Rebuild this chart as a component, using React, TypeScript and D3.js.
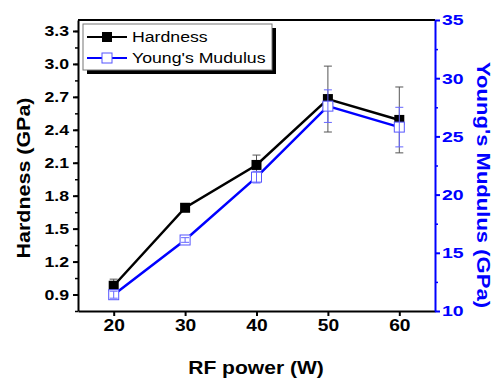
import { useRef, useEffect } from 'react';
import * as d3 from 'd3';

const WIDTH = 493;
const HEIGHT = 381;

const rfPower = [20, 30, 40, 50, 60];
const hardness = [0.98, 1.69, 2.08, 2.68, 2.49];
const hardnessErr = [0.06, 0.02, 0.09, 0.3, 0.3];
const modulus = [11.4, 16.1, 21.5, 27.6, 25.8];
const modulusErr = [0.3, 0.2, 0.5, 1.4, 1.7];

const xTicks = [20, 30, 40, 50, 60];
const leftTicks = [0.9, 1.2, 1.5, 1.8, 2.1, 2.4, 2.7, 3.0, 3.3];
const rightTicks = [10, 15, 20, 25, 30, 35];

const FONT = 'Liberation Sans, Arial, sans-serif';
const BLUE = '#0000ff';

// the original text is wider than plain Arial, so stretch it sideways
function stretchTicks(axis: d3.Selection<SVGGElement, unknown, null, undefined>, s: number) {
  axis.selectAll<SVGTextElement, unknown>('.tick text').each(function () {
    const t = d3.select(this);
    const x0 = +(t.attr('x') || 0);
    t.attr('x', x0 / s).attr('transform', `scale(${s},1)`);
  });
}

export default function App() {
  const svgRef = useRef<SVGSVGElement>(null);

  useEffect(() => {
    const svg = d3.select(svgRef.current);
    svg.selectAll('*').remove();

    const left = 78;
    const right = 435;
    const top = 20;
    const bottom = 311;

    const x = d3.scaleLinear().domain([15, 65]).range([left, right]);
    const yL = d3.scaleLinear().domain([0.75, 3.4]).range([bottom, top]);
    const yR = d3.scaleLinear().domain([10, 35]).range([bottom, top]);

    svg.append('rect').attr('width', WIDTH).attr('height', HEIGHT).attr('fill', '#fff');

    // frame
    svg.append('line').attr('x1', left).attr('x2', right).attr('y1', top).attr('y2', top)
      .attr('stroke', '#000').attr('stroke-width', 2);

    // bottom axis
    const xAxis = svg.append('g').attr('transform', `translate(0,${bottom})`)
      .call(d3.axisBottom(x).tickValues(xTicks).tickSize(5).tickSizeOuter(0).tickPadding(4).tickFormat(d3.format('d')));
    xAxis.select('.domain').attr('stroke', '#000').attr('stroke-width', 2);
    xAxis.selectAll('.tick line').attr('stroke', '#000').attr('stroke-width', 2);
    xAxis.selectAll('.tick text').attr('font-family', FONT).attr('font-size', 16)
      .attr('font-weight', 'bold').attr('fill', '#000');
    stretchTicks(xAxis, 1.2);

    // left axis
    const minorL = d3.range(0.75, 3.41, 0.15).map((v) => +v.toFixed(2));
    const lAxisMinor = svg.append('g').attr('transform', `translate(${left},0)`)
      .call(d3.axisLeft(yL).tickValues(minorL).tickSize(3).tickFormat(() => ''));
    lAxisMinor.select('.domain').remove();
    lAxisMinor.selectAll('.tick line').attr('stroke', '#000').attr('stroke-width', 1.5);

    const lAxis = svg.append('g').attr('transform', `translate(${left},0)`)
      .call(d3.axisLeft(yL).tickValues(leftTicks).tickSize(5).tickSizeOuter(0).tickPadding(4).tickFormat(d3.format('.1f')));
    lAxis.select('.domain').attr('stroke', '#000').attr('stroke-width', 2);
    lAxis.selectAll('.tick line').attr('stroke', '#000').attr('stroke-width', 2);
    lAxis.selectAll('.tick text').attr('font-family', FONT).attr('font-size', 15)
      .attr('font-weight', 'bold').attr('fill', '#000');
    stretchTicks(lAxis, 1.18);

    // right axis
    const minorR = d3.range(12.5, 35, 5);
    const rAxisMinor = svg.append('g').attr('transform', `translate(${right},0)`)
      .call(d3.axisRight(yR).tickValues(minorR).tickSize(3).tickFormat(() => ''));
    rAxisMinor.select('.domain').remove();
    rAxisMinor.selectAll('.tick line').attr('stroke', BLUE).attr('stroke-width', 1.5);

    const rAxis = svg.append('g').attr('transform', `translate(${right},0)`)
      .call(d3.axisRight(yR).tickValues(rightTicks).tickSize(5).tickSizeOuter(0).tickPadding(2).tickFormat(d3.format('d')));
    rAxis.select('.domain').attr('stroke', BLUE).attr('stroke-width', 2);
    rAxis.selectAll('.tick line').attr('stroke', BLUE).attr('stroke-width', 2);
    rAxis.selectAll('.tick text').attr('font-family', FONT).attr('font-size', 15)
      .attr('font-weight', 'bold').attr('fill', BLUE);
    stretchTicks(rAxis, 1.3);

    // axis titles
    svg.append('text').attr('transform', `translate(256,374) scale(1.17,1)`)
      .attr('text-anchor', 'middle').attr('font-family', FONT).attr('font-size', 18)
      .attr('font-weight', 'bold').text('RF power (W)');
    svg.append('text').attr('transform', `translate(30,178) rotate(-90) scale(1.13,1)`)
      .attr('text-anchor', 'middle').attr('font-family', FONT).attr('font-size', 19)
      .attr('font-weight', 'bold').text('Hardness (GPa)');
    svg.append('text').attr('transform', `translate(477,185) rotate(90) scale(1.26,1)`)
      .attr('text-anchor', 'middle').attr('font-family', FONT).attr('font-size', 17.5)
      .attr('font-weight', 'bold').attr('fill', BLUE).text("Young's Mudulus (GPa)");

    const cap = 4;

    // hardness series
    const hLine = d3.line<number>().x((_, i) => x(rfPower[i])).y((d) => yL(d));
    svg.append('path').attr('d', hLine(hardness)).attr('fill', 'none')
      .attr('stroke', '#000').attr('stroke-width', 2.5);
    hardness.forEach((v, i) => {
      const cx = x(rfPower[i]);
      const y1 = yL(v + hardnessErr[i]);
      const y2 = yL(v - hardnessErr[i]);
      const g = svg.append('g').attr('stroke', '#555').attr('stroke-width', 1);
      g.append('line').attr('x1', cx).attr('x2', cx).attr('y1', y1).attr('y2', y2);
      g.append('line').attr('x1', cx - cap).attr('x2', cx + cap).attr('y1', y1).attr('y2', y1);
      g.append('line').attr('x1', cx - cap).attr('x2', cx + cap).attr('y1', y2).attr('y2', y2);
      svg.append('rect').attr('x', cx - 5).attr('y', yL(v) - 5).attr('width', 10).attr('height', 10)
        .attr('fill', '#000');
    });

    // modulus series
    const mLine = d3.line<number>().x((_, i) => x(rfPower[i])).y((d) => yR(d));
    svg.append('path').attr('d', mLine(modulus)).attr('fill', 'none')
      .attr('stroke', BLUE).attr('stroke-width', 2.5);
    modulus.forEach((v, i) => {
      const cx = x(rfPower[i]);
      const y1 = yR(v + modulusErr[i]);
      const y2 = yR(v - modulusErr[i]);
      svg.append('rect').attr('x', cx - 5).attr('y', yR(v) - 5).attr('width', 10).attr('height', 10)
        .attr('fill', '#fff').attr('stroke', '#5555ff').attr('stroke-width', 1);
      const g = svg.append('g').attr('stroke', '#6666ff').attr('stroke-width', 1);
      g.append('line').attr('x1', cx).attr('x2', cx).attr('y1', y1).attr('y2', y2);
      g.append('line').attr('x1', cx - cap).attr('x2', cx + cap).attr('y1', y1).attr('y2', y1);
      g.append('line').attr('x1', cx - cap).attr('x2', cx + cap).attr('y1', y2).attr('y2', y2);
    });

    // legend
    const lg = svg.append('g');
    lg.append('rect').attr('x', 87).attr('y', 28).attr('width', 189).attr('height', 46).attr('fill', '#000');
    lg.append('rect').attr('x', 83).attr('y', 24).attr('width', 189).attr('height', 46)
      .attr('fill', '#fff').attr('stroke', '#777').attr('stroke-width', 1);
    lg.append('line').attr('x1', 87).attr('x2', 127).attr('y1', 37).attr('y2', 37)
      .attr('stroke', '#000').attr('stroke-width', 2);
    lg.append('rect').attr('x', 102).attr('y', 32).attr('width', 10).attr('height', 10).attr('fill', '#000');
    lg.append('text').attr('transform', 'translate(132,42) scale(1.18,1)')
      .attr('font-family', FONT).attr('font-size', 15).text('Hardness');
    lg.append('line').attr('x1', 87).attr('x2', 127).attr('y1', 58).attr('y2', 58)
      .attr('stroke', BLUE).attr('stroke-width', 2);
    lg.append('rect').attr('x', 102).attr('y', 53).attr('width', 10).attr('height', 10)
      .attr('fill', '#fff').attr('stroke', '#5555ff').attr('stroke-width', 1);
    lg.append('text').attr('transform', 'translate(132,63) scale(1.18,1)')
      .attr('font-family', FONT).attr('font-size', 15).text("Young's Mudulus");
  }, []);

  return (
    <svg ref={svgRef} width={WIDTH} height={HEIGHT}
      style={{ position: 'absolute', left: 0, top: 0, display: 'block' }} />
  );
}
